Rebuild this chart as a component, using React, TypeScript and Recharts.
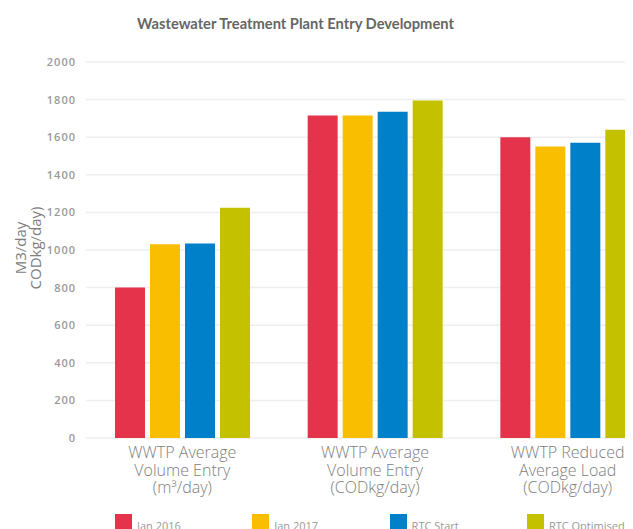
import { BarChart, Bar, XAxis, YAxis, CartesianGrid, Legend } from "recharts";

const categories = [
  ["WWTP Average", "Volume Entry", "(m³/day)"],
  ["WWTP Average", "Volume Entry", "(CODkg/day)"],
  ["WWTP Reduced", "Average Load", "(CODkg/day)"],
];
const jan2016 = [800, 1715, 1600];
const jan2017 = [1030, 1715, 1550];
const rtcStart = [1035, 1735, 1570];
const rtcOptimised = [1225, 1795, 1640];
const yTicks = [0, 200, 400, 600, 800, 1000, 1200, 1400, 1600, 1800, 2000];

const series = [
  { key: "jan2016", name: "Jan 2016", color: "#e5334b" },
  { key: "jan2017", name: "Jan 2017", color: "#f9be00" },
  { key: "rtcStart", name: "RTC Start", color: "#0080c8" },
  { key: "rtcOptimised", name: "RTC Optimised", color: "#c4c100" },
];

const data = categories.map((c, i) => ({
  idx: i,
  jan2016: jan2016[i],
  jan2017: jan2017[i],
  rtcStart: rtcStart[i],
  rtcOptimised: rtcOptimised[i],
}));

const gray = "#7d7d7d";

// three-line category label as one text block
function CategoryTick({ x, y, payload }: any) {
  const lines = categories[payload.value] || [];
  return (
    <text
      x={x}
      y={y + 20}
      textAnchor="middle"
      fill={gray}
      fontSize={16}
      fontFamily="'Open Sans', sans-serif"
      fontWeight={300}
    >
      {lines.map((l, i) => (
        <tspan key={i} x={x} dy={i === 0 ? 0 : 17.5}>
          {l}
        </tspan>
      ))}
    </text>
  );
}

function AxisTitle({ viewBox }: any) {
  const cy = viewBox.y + viewBox.height / 2 - 2;
  return (
    <g transform={`translate(0, ${cy}) rotate(-90)`} fill={gray} fontSize={15}
      fontFamily="'Open Sans', sans-serif" textAnchor="middle">
      <text x={0} y={18}>M3/day</text>
      <text x={0} y={33}>CODkg/day)</text>
    </g>
  );
}

function LegendContent() {
  return (
    <div style={{ display: "flex", paddingTop: 6, height: 17 }}>
      {series.map((s) => (
        <div key={s.key} style={{ width: 137.3, display: "flex", alignItems: "flex-start" }}>
          <div style={{ width: 17, height: 17, background: s.color, flexShrink: 0 }} />
          <span style={{ fontSize: 11, color: "#999", fontFamily: "'Open Sans', sans-serif", marginLeft: 5, marginTop: 6, lineHeight: "12px" }}>
            {s.name}
          </span>
        </div>
      ))}
    </div>
  );
}

export default function App() {
  return (
    <div style={{ position: "relative", width: 625, height: 521, overflow: "hidden", background: "#fff" }}>
      <div
        style={{
          position: "absolute",
          left: 0,
          width: 575,
          top: 6,
          textAlign: "center",
          fontFamily: "Lato, sans-serif",
          fontWeight: 700,
          fontSize: 14.7,
          color: "#666",
          zIndex: 2,
        }}
      >
        Wastewater Treatment Plant Entry Development
      </div>
      <BarChart
        width={660}
        height={545}
        data={data}
        margin={{ top: 54, right: 4, left: 0, bottom: 22 }}
        barSize={30}
        barGap={5}
      >
        <CartesianGrid vertical={false} stroke="#eeeeee" strokeWidth={1.5} />
        <XAxis
          dataKey="idx"
          axisLine={false}
          tickLine={false}
          tickSize={0}
          tickMargin={0}
          height={70}
          interval={0}
          tick={<CategoryTick />}
        />
        <YAxis
          width={78}
          domain={[0, 2000]}
          ticks={yTicks}
          axisLine={false}
          tickLine={false}
          tickSize={0}
          tickMargin={10}
          tick={{ fontSize: 11, fill: "#999", fontFamily: "'Open Sans', sans-serif", fontWeight: 600, letterSpacing: 1 }}
          label={<AxisTitle />}
        />
        <Legend
          verticalAlign="bottom"
          align="left"
          content={<LegendContent />}
          wrapperStyle={{ left: 107 }}
        />
        {series.map((s) => (
          <Bar key={s.key} dataKey={s.key} name={s.name} fill={s.color} isAnimationActive={false} />
        ))}
      </BarChart>
    </div>
  );
}
